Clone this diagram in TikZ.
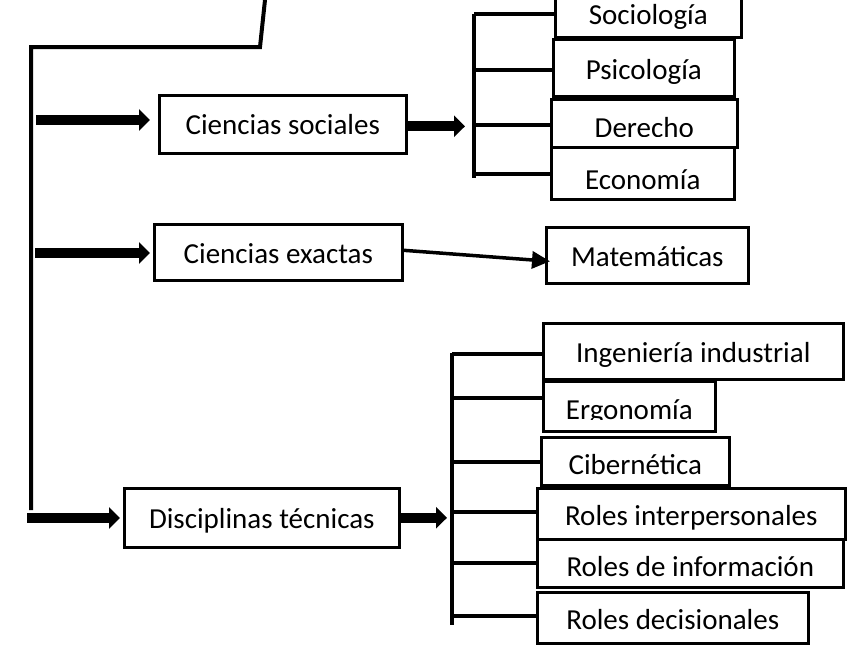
\documentclass[tikz,border=0pt]{standalone}
\usepackage{fontspec}
\setmainfont{Carlito}
\usetikzlibrary{arrows.meta}
\begin{document}
\begin{tikzpicture}[x=1pt,y=-1pt,
  lbl/.style={inner sep=1pt, text depth=0pt, text height=18.6pt, font=\fontsize{29}{32}\selectfont},
  box/.style={lbl, draw, line width=2.6pt, fill=white, anchor=north west},
  trunk/.style={line width=4pt, line join=miter},
  brk/.style={line width=4pt},
  bigarrow/.style={line width=10pt, -{Triangle[length=11pt,width=21pt]}},
  thinarrow/.style={line width=3.5pt, -{Triangle[length=18pt,width=17pt]}}]
\useasboundingbox (0,0) rectangle (847,645);

% trunk
\coordinate (t0) at (265,0);
\coordinate (t1) at (260,47);
\coordinate (t2) at (31,47);
\coordinate (t3) at (31,510);
\draw[trunk] (t0) -- (t1) -- (t2) -- (t3);

% main boxes
\node[box, minimum width=247pt, minimum height=58pt, text height=20.6pt] (csoc) at (158,94) {Ciencias sociales};
\node[box, minimum width=248pt, minimum height=56pt, text height=21.6pt] (cex) at (153,223) {Ciencias exactas};
\node[box, minimum width=275pt, minimum height=59pt, text height=20.6pt] (disc) at (123,487) {Disciplinas técnicas};

% left arrows
\coordinate (m1) at (36,120);
\coordinate (m2) at (35,253);
\coordinate (m3) at (27,518);
\draw[bigarrow, shorten >=8pt] (m1) -- (m1 -| csoc.west);
\draw[bigarrow, shorten >=3pt] (m2) -- (m2 -| cex.west);
\draw[bigarrow, shorten >=3pt] (m3) -- (m3 -| disc.west);

% social sciences group
\node[box, minimum width=186pt, minimum height=44pt, text height=18.6pt] (soc) at (554,-8) {Sociología};
\node[box, minimum width=181pt, minimum height=57pt, text height=22.6pt] (psi) at (552,38) {Psicología};
\node[box, minimum width=186pt, minimum height=48pt] (der) at (550,98) {};
\begin{scope}
\clip (550,98) rectangle (736,136);
\node[lbl, text height=28.6pt] at (der.center) {Derecho};
\end{scope}
\node[box, minimum width=183pt, minimum height=52pt, text height=31.6pt] (eco) at (550,146) {Economía};

\coordinate (b1t) at (474,14);
\coordinate (b1b) at (474,178);
\coordinate (b1a) at (474,14);
\coordinate (b1c) at (474,70);
\coordinate (b1d) at (474,125);
\coordinate (b1e) at (474,174);
\draw[brk] (b1t) -- (b1b);
\draw[brk] (b1a) -- (b1a -| soc.west);
\draw[brk] (b1c) -- (b1c -| psi.west);
\draw[brk] (b1d) -- (b1d -| der.west);
\draw[brk] (b1e) -- (b1e -| eco.west);
\draw[bigarrow, shorten >=9pt] ([yshift=-2pt]csoc.east) -- ([yshift=-2pt]csoc.east -| b1d);

% exact sciences
\node[box, minimum width=202pt, minimum height=56pt, text height=22.6pt] (mat) at (545,226) {Matemáticas};
\draw[thinarrow] ([yshift=2pt]cex.east) -- ([shift={(5pt,-6pt)}]mat.west);

% technical disciplines group
\node[box, minimum width=300pt, minimum height=56pt, text height=22.6pt] (ing) at (542,322) {Ingeniería industrial};
\node[box, minimum width=172pt, minimum height=50pt] (erg) at (542,380) {};
\begin{scope}
\clip (542,380) rectangle (714,419);
\node[lbl, text height=26.6pt] at (erg.center) {Ergonomía};
\end{scope}
\node[box, minimum width=188pt, minimum height=48pt, text height=26.6pt] (cib) at (540,436) {Cibernética};
\node[box, minimum width=308pt, minimum height=51pt, text height=23.6pt] (rint) at (536,487) {Roles interpersonales};
\node[box, minimum width=306pt, minimum height=48pt, text height=25.6pt] (rinf) at (536,538) {Roles de información};
\node[box, minimum width=271pt, minimum height=51pt, text height=23.6pt] (rdec) at (536,591) {Roles decisionales};

\coordinate (b2t) at (452,353);
\coordinate (b2b) at (452,625);
\coordinate (c1) at (452,354);
\coordinate (c2) at (452,398);
\coordinate (c3) at (452,462);
\coordinate (c4) at (452,512);
\coordinate (c5) at (452,563);
\coordinate (c6) at (452,616);
\draw[brk] (b2t) -- (b2b);
\draw[brk] (c1) -- (c1 -| ing.west);
\draw[brk] (c2) -- (c2 -| erg.west);
\draw[brk] (c3) -- (c3 -| cib.west);
\draw[brk] (c4) -- (c4 -| rint.west);
\draw[brk] (c5) -- (c5 -| rinf.west);
\draw[brk] (c6) -- (c6 -| rdec.west);
\draw[bigarrow, shorten >=5pt] (disc.east) -- (disc.east -| c4);
\end{tikzpicture}
\end{document}
